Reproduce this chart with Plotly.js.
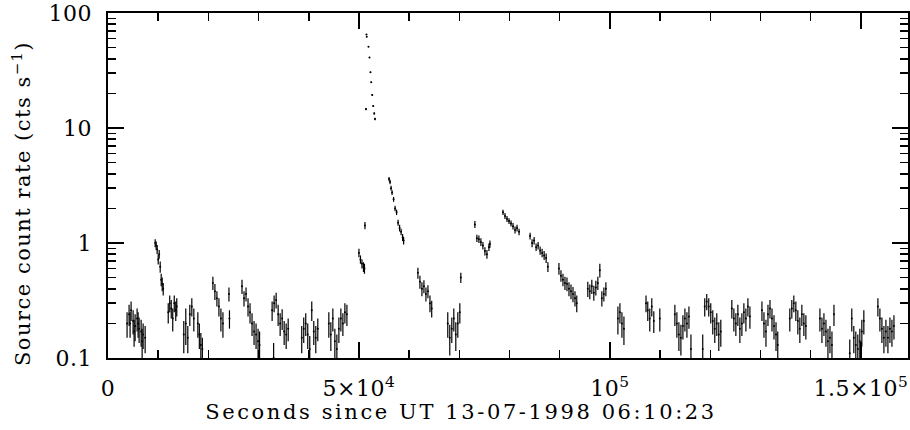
<!DOCTYPE html>
<html>
<head>
<meta charset="utf-8">
<script src="https://cdn.plot.ly/plotly-3.0.1.min.js"></script>
<style>html,body{margin:0;padding:0;background:#fff}#chart{width:910px;height:430px}</style>
</head>
<body>
<div id="chart"></div>
<script>
// Time since UT 13-07-1998 06:10:23 (s)
const timeSec = [
  3800,4200,4400,4600,5000,5200,5400,5800,6000,6200,6600,6800,7000,7400,
  9400,9600,9800,10000,10200,10400,10600,10800,11000,
  12000,12300,12600,12900,13200,13500,13700,
  15100,15500,15900,16300,16700,17100,
  17900,18200,18500,18800,
  20900,21300,21700,22100,22500,22900,
  24100,24200,
  26700,27100,27500,27900,28300,28700,29100,29500,29900,30200,
  32700,33000,33100,33500,33900,34300,34700,35100,35500,35900,
  38600,39000,39400,39800,40200,40600,41000,41400,41800,
  44000,44400,44800,45200,45600,46000,46400,46800,47200,47600,
  50000,50300,50600,50900,51100,51200,
  51400,51500,51550,51900,52100,52300,52450,52650,52850,53050,53200,
  56000,56200,56400,56600,56900,57200,57500,57800,58100,58400,58700,58900,
  61750,62150,62550,62950,63350,63750,64150,64500,
  67700,68100,68500,68900,69300,69700,70100,70300,
  73100,73500,73900,74300,74700,75100,75500,75900,76100,
  78700,79100,79500,79900,80300,80700,81100,81500,81900,
  84100,84500,84900,85300,85700,86100,86500,86900,87300,87650,
  89850,90250,90650,91050,91450,91850,92250,92650,93050,93400,
  95600,96000,96400,96800,97200,97600,98000,98400,98800,99200,
  101600,102000,102400,102800,
  107200,107550,107950,108350,108750,109950,
  112950,113350,113750,114150,114550,114950,115350,115750,116150,
  118500,118900,119300,119700,120100,120500,120900,121300,121700,122100,
  124300,124700,125100,125500,125900,126300,126700,127100,127500,127900,
  130300,130700,131100,131500,131900,132300,132700,133100,133450,
  135850,136250,136650,137050,137450,137850,138250,138650,139050,
  141850,142250,142650,143050,143450,143850,144250,144650,
  147800,148200,148600,149000,149400,149800,150200,150600,
  153400,153800,154200,154600,155000,155400,155800,156200,156600
];
// Source count rate (cts/s)
const countRate = [
  0.20,0.24,0.20,0.26,0.21,0.17,0.19,0.22,0.20,0.18,0.17,0.14,0.16,0.15,
  1.00,0.95,0.88,0.72,0.80,0.62,0.48,0.44,0.40,
  0.25,0.30,0.27,0.22,0.30,0.26,0.28,
  0.16,0.20,0.15,0.24,0.28,0.22,
  0.20,0.16,0.13,0.12,
  0.45,0.38,0.33,0.28,0.22,0.20,
  0.36,0.22,
  0.42,0.33,0.36,0.28,0.25,0.20,0.17,0.16,0.14,0.13,
  0.26,0.10,0.30,0.32,0.24,0.20,0.22,0.17,0.16,0.18,
  0.15,0.18,0.20,0.16,0.12,0.26,0.17,0.15,0.18,
  0.20,0.16,0.22,0.14,0.12,0.18,0.22,0.20,0.25,0.24,
  0.82,0.72,0.66,0.62,0.60,1.42,
  14.6,65,62,51,41,30.5,25,19.4,15.5,13.4,12.0,
  3.6,3.4,3.0,2.75,2.4,2.0,1.85,1.5,1.35,1.25,1.12,1.05,
  0.55,0.46,0.40,0.42,0.36,0.38,0.30,0.27,
  0.20,0.15,0.18,0.22,0.16,0.20,0.25,0.50,
  1.45,1.10,1.08,1.02,0.95,0.85,0.80,0.92,0.98,
  1.85,1.72,1.62,1.55,1.48,1.40,1.30,1.35,1.25,
  1.15,1.00,1.05,0.92,0.95,0.86,0.82,0.78,0.74,0.62,
  0.60,0.52,0.48,0.45,0.44,0.40,0.38,0.36,0.33,0.30,
  0.40,0.38,0.42,0.37,0.41,0.45,0.58,0.33,0.36,0.40,
  0.22,0.25,0.20,0.18,
  0.30,0.26,0.22,0.28,0.21,0.22,
  0.24,0.20,0.16,0.15,0.19,0.22,0.20,0.23,0.12,
  0.12,0.28,0.31,0.28,0.25,0.21,0.18,0.20,0.16,0.17,
  0.27,0.22,0.20,0.24,0.18,0.20,0.25,0.22,0.28,0.23,
  0.26,0.20,0.17,0.24,0.27,0.22,0.19,0.16,0.13,
  0.22,0.27,0.30,0.26,0.21,0.18,0.24,0.20,0.19,
  0.22,0.18,0.20,0.17,0.14,0.15,0.13,0.24,
  0.11,0.22,0.15,0.13,0.12,0.14,0.17,0.21,
  0.28,0.22,0.18,0.15,0.17,0.15,0.18,0.17,0.19
];
// 1-sigma error on the rate (cts/s)
const rateErr = [
  0.05,0.05,0.05,0.05,0.05,0.045,0.05,0.05,0.05,0.045,0.045,0.04,0.04,0.04,
  0.08,0.08,0.08,0.07,0.07,0.07,0.06,0.06,0.05,
  0.05,0.05,0.05,0.05,0.05,0.05,0.05,
  0.05,0.07,0.04,0.05,0.05,0.05,
  0.05,0.04,0.035,0.03,
  0.06,0.06,0.05,0.05,0.05,0.05,
  0.05,0.04,
  0.06,0.05,0.05,0.05,0.05,0.045,0.04,0.04,0.04,0.04,
  0.05,0.035,0.05,0.05,0.05,0.045,0.045,0.04,0.04,0.04,
  0.04,0.045,0.045,0.04,0.035,0.05,0.04,0.04,0.04,
  0.05,0.045,0.05,0.04,0.04,0.045,0.05,0.045,0.05,0.05,
  0.07,0.06,0.06,0.06,0.06,0.1,
  0.3,0.6,0.6,0.5,0.5,0.4,0.4,0.35,0.3,0.3,0.3,
  0.15,0.15,0.14,0.13,0.12,0.11,0.1,0.09,0.09,0.08,0.08,0.08,
  0.06,0.06,0.055,0.055,0.05,0.05,0.05,0.045,
  0.05,0.045,0.045,0.05,0.045,0.05,0.05,0.05,
  0.1,0.08,0.08,0.08,0.07,0.07,0.07,0.07,0.07,
  0.1,0.1,0.1,0.09,0.09,0.09,0.09,0.09,0.08,
  0.08,0.08,0.08,0.07,0.07,0.07,0.07,0.07,0.07,0.06,
  0.07,0.06,0.06,0.06,0.06,0.055,0.055,0.055,0.05,0.05,
  0.06,0.055,0.06,0.055,0.06,0.06,0.08,0.05,0.05,0.055,
  0.06,0.05,0.05,0.05,
  0.05,0.05,0.05,0.05,0.045,0.05,
  0.05,0.05,0.045,0.045,0.045,0.05,0.05,0.05,0.04,
  0.04,0.05,0.05,0.05,0.05,0.05,0.045,0.045,0.045,0.045,
  0.05,0.05,0.045,0.05,0.045,0.045,0.05,0.05,0.05,0.05,
  0.05,0.05,0.045,0.05,0.05,0.05,0.045,0.045,0.04,
  0.05,0.05,0.05,0.05,0.05,0.045,0.05,0.045,0.045,
  0.05,0.045,0.045,0.045,0.04,0.04,0.04,0.05,
  0.035,0.05,0.04,0.04,0.04,0.04,0.045,0.05,
  0.05,0.05,0.045,0.04,0.045,0.04,0.045,0.045,0.045
];
const xTickVals = [0, 50000, 100000, 150000];
const xTickText = ['0', '5×10<sup>4</sup>', '10<sup>5</sup>', '1.5×10<sup>5</sup>'];
const yTickVals = [0.1, 1, 10, 100];
const yTickText = ['0.1', '1', '10', '100'];

const FONT = 'DejaVu Serif, Liberation Serif, serif';

const trace = {
  type: 'scatter',
  mode: 'markers',
  x: timeSec,
  y: countRate,
  marker: {size: 2, color: '#000'},
  error_y: {type: 'data', array: rateErr, symmetric: true, color: '#000', thickness: 1.2, width: 0},
  hoverinfo: 'x+y',
  showlegend: false
};

const axisCommon = {
  showline: true, linecolor: '#000', linewidth: 1.6, mirror: 'ticks',
  ticks: 'inside', ticklen: 16, tickwidth: 1.5, tickcolor: '#000',
  showgrid: false, zeroline: false,
  tickfont: {family: FONT, size: 22, color: '#000'}
};

const layout = {
  width: 910, height: 430,
  margin: {l: 108, r: 2, t: 13, b: 72},
  paper_bgcolor: '#fff', plot_bgcolor: '#fff',
  font: {family: FONT, color: '#000'},
  xaxis: Object.assign({}, axisCommon, {
    range: [0, 159400],
    tickmode: 'array', tickvals: xTickVals, ticktext: xTickText,
    ticklabelstandoff: 10,
    minor: {ticks: 'inside', ticklen: 8, tickwidth: 1.5, tickcolor: '#000', tick0: 0, dtick: 10000, showgrid: false},
    title: {text: 'Seconds since UT 13-07-1998 06:10:23', font: {family: FONT, size: 21, color: '#000'}, standoff: 4}
  }),
  yaxis: Object.assign({}, axisCommon, {
    type: 'log', range: [-1, 2],
    tickmode: 'array', tickvals: yTickVals, ticktext: yTickText,
    ticklabelstandoff: 10,
    minor: {ticks: 'inside', ticklen: 8, tickwidth: 1.5, tickcolor: '#000', dtick: 'D1', showgrid: false},
    title: {text: 'Source count rate (cts s<sup>−1</sup>)', font: {family: FONT, size: 21, color: '#000'}, standoff: 22}
  })
};

Plotly.newPlot('chart', [trace], layout, {displayModeBar: false, staticPlot: true}).then(function (gd) {
  // PGPLOT-style wide letter spacing and title placement
  gd.querySelectorAll('.xtitle').forEach(function (t) { t.style.letterSpacing = '2.6px'; });
  gd.querySelectorAll('.ytitle').forEach(function (t) { t.style.letterSpacing = '1.5px'; });
  gd.querySelectorAll('.xtick text, .ytick text').forEach(function (t) { t.style.letterSpacing = '0.5px'; });
  gd.querySelectorAll('.g-xtitle').forEach(function (g) { g.setAttribute('transform', 'translate(-47,0)'); });
  gd.querySelectorAll('.g-ytitle').forEach(function (g) { g.setAttribute('transform', 'translate(9,18)'); });
});
</script>
</body>
</html>
